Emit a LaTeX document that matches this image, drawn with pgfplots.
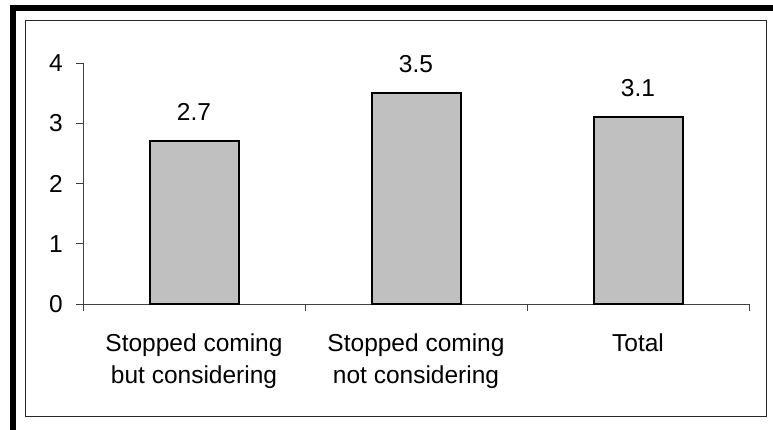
\documentclass[border=0pt]{standalone}
\usepackage{fontspec}
\setmainfont{Liberation Sans}
\usepackage{pgfplots}
\pgfplotsset{compat=1.18}
\definecolor{barfill}{RGB}{192,192,192}
\newcommand{\chartfont}{\fontsize{24.5bp}{32bp}\selectfont}
\begin{document}
\chartfont
\begin{tikzpicture}[x=1bp,y=1bp]
  \useasboundingbox (0,0) rectangle (773,429);
  \clip (0,0) rectangle (773,429);
  % heavy outer frame and thin inner frame
  \draw[line width=6bp] (13,-20) rectangle (800,421);
  \draw[line width=1bp, black!85] (25.5,12.3) rectangle (766.3,408.3);
  \begin{axis}[
    at={(83bp,125bp)}, anchor=south west,
    scale only axis, width=666bp, height=241bp,
    xmin=0.5, xmax=3.5, ymin=0, ymax=4,
    axis x line=bottom, axis y line=left,
    axis line style={-, line width=1bp, black!75},
    /pgf/number format/assume math mode=true,
    ytick={0,1,2,3,4},
    xtick={1,2,3},
    xticklabels={{Stopped coming\\but considering},{Stopped coming\\not considering},{Total}},
    minor xtick={0.5,1.5,2.5,3.5},
    tick align=outside,
    major tick length=7bp, minor tick length=7bp,
    major x tick style={draw=none},
    tick style={line width=1bp, black!75},
    xticklabel style={align=center, font=\chartfont, yshift=-14bp},
    yticklabel style={font=\chartfont, xshift=-5bp},
    nodes near coords,
    every node near coord/.append style={anchor=base, yshift=21bp, font=\chartfont},
  ]
    \addplot[ybar, bar width=89bp, fill=barfill, draw=black, line width=2bp]
      coordinates {(1,2.7) (2,3.5) (3,3.1)};
  \end{axis}
\end{tikzpicture}
\end{document}
